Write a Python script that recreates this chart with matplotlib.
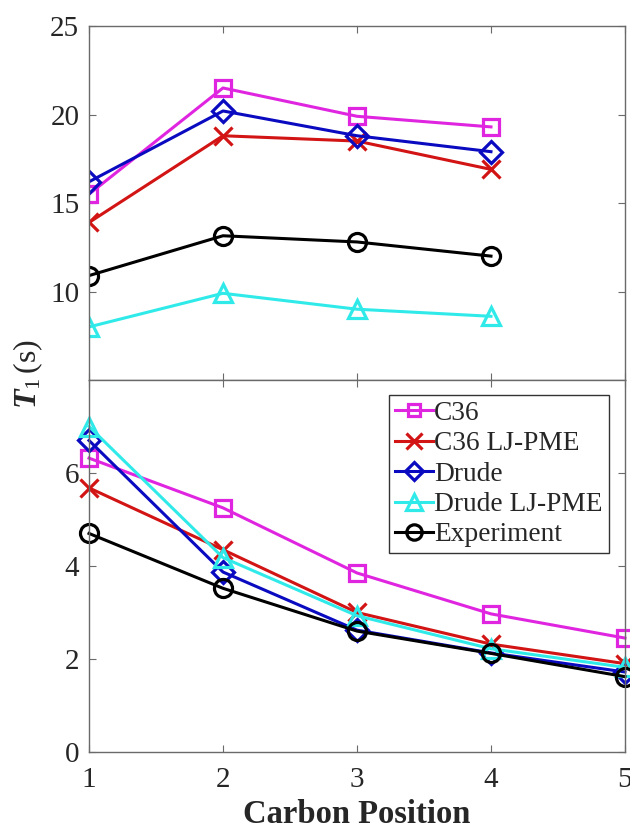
import matplotlib
matplotlib.use("Agg")
import matplotlib.pyplot as plt

plt.rcParams['font.family'] = ['Liberation Serif', 'DejaVu Serif']
plt.rcParams['mathtext.fontset'] = 'custom'
plt.rcParams['mathtext.rm'] = 'Liberation Serif'
plt.rcParams['mathtext.it'] = 'Liberation Serif:italic'
plt.rcParams['mathtext.bf'] = 'Liberation Serif:italic:bold'

# ---- data ----
x_top = [1, 2, 3, 4]
top_c36 = [15.5, 21.5, 19.9, 19.3]
top_c36_ljpme = [13.9, 18.8, 18.5, 16.9]
top_drude = [16.2, 20.2, 18.8, 17.9]
top_drude_ljpme = [8.0, 9.9, 9.0, 8.6]
top_exp = [10.9, 13.15, 12.8, 12.0]

x_bot = [1, 2, 3, 4, 5]
bot_c36 = [6.32, 5.25, 3.85, 2.97, 2.45]
bot_c36_ljpme = [5.68, 4.35, 3.0, 2.32, 1.9]
bot_drude = [6.7, 3.87, 2.62, 2.13, 1.72]
bot_drude_ljpme = [7.0, 4.18, 2.93, 2.22, 1.82]
bot_exp = [4.7, 3.52, 2.6, 2.12, 1.62]

labels = ['C36', 'C36 LJ-PME', 'Drude', 'Drude LJ-PME', 'Experiment']
colors = ['#E025E0', '#D21414', '#0A0AC0', '#30EAEA', '#000000']
markers = ['s', 'x', 'D', '^', 'o']
msizes = [11, 13, 11, 13, 13]

xticks = [1, 2, 3, 4, 5]
top_yticks = [10, 15, 20, 25]
bot_yticks = [0, 2, 4, 6]

fig = plt.figure(figsize=(6.3, 8.31), dpi=100)
ax1 = fig.add_axes([0.1413, 0.5427, 0.8507, 0.426])
ax2 = fig.add_axes([0.1413, 0.0951, 0.8507, 0.4476])

top_series = [top_c36, top_c36_ljpme, top_drude, top_drude_ljpme, top_exp]
bot_series = [bot_c36, bot_c36_ljpme, bot_drude, bot_drude_ljpme, bot_exp]

for ys, c, m, ms in zip(top_series, colors, markers, msizes):
    ax1.plot(x_top, ys, color=c, marker=m, markersize=ms, markerfacecolor='none',
             markeredgewidth=2.3, linewidth=2.2)
for ys, c, m, ms, lab in zip(bot_series, colors, markers, msizes, labels):
    ax2.plot(x_bot, ys, color=c, marker=m, markersize=ms, markerfacecolor='none',
             markeredgewidth=2.3, linewidth=2.2, label=lab, clip_on=False)

spine_c = '#6A6A6A'
text_c = '#262626'
for ax in (ax1, ax2):
    ax.set_xlim(1, 5)
    ax.set_xticks(xticks)
    for s in ax.spines.values():
        s.set_color(spine_c)
        s.set_linewidth(1.0)
    ax.tick_params(direction='in', top=True, right=True, length=5, width=0.8,
                   color=spine_c, labelsize=21, labelcolor=text_c)
    ax.tick_params(axis='y', pad=7)
    ax.tick_params(axis='x', pad=11)

ax1.set_ylim(5, 25)
ax1.set_yticks(top_yticks)
ax1.tick_params(labelbottom=False)
ax2.set_ylim(0, 8)
ax2.set_yticks(bot_yticks)

ax2.set_xlabel('Carbon Position', fontsize=23.5, fontweight='bold', color=text_c, labelpad=4)
fig.text(0.045, 0.55, r'$\mathbf{T}_{\mathrm{1}}\,\mathrm{(s)}$', rotation=90,
         fontsize=23, color=text_c, ha='center', va='center')

leg = ax2.legend(loc='upper right', bbox_to_anchor=(0.97, 0.96), fontsize=19.7,
                 frameon=True, fancybox=False, edgecolor='#333333', framealpha=1,
                 handlelength=1.4, handletextpad=0.05, borderpad=0.22,
                 labelspacing=0.19, borderaxespad=0, markerscale=0.85)
leg.get_frame().set_linewidth(1.0)
for t in leg.get_texts():
    t.set_color(text_c)

fig.savefig('out.png', dpi=100)
